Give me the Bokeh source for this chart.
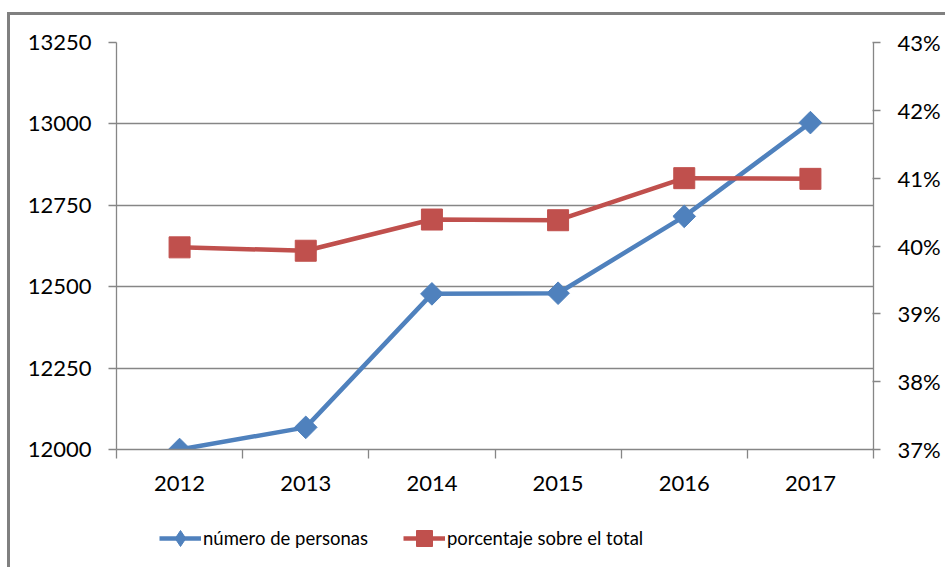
from bokeh.plotting import figure
from bokeh.layouts import column
from bokeh.models import (Range1d, LinearAxis, FixedTicker, NumeralTickFormatter,
                          Legend, LegendItem)
from bokeh.embed import file_html
from bokeh.resources import INLINE

years = ["2012", "2013", "2014", "2015", "2016", "2017"]
personas = [12000, 12068, 12478, 12480, 12716, 13004]
porcentaje = [0.3998, 0.3993, 0.4039, 0.4038, 0.4100, 0.4099]
left_ticks = [12000, 12250, 12500, 12750, 13000, 13250]
right_ticks = [0.37, 0.38, 0.39, 0.40, 0.41, 0.42, 0.43]
series_names = ["número de personas", "porcentaje sobre el total"]

BLUE = "#4F81BD"
RED = "#C0504D"
GREY = "#868686"
FONT = "Lato"

xs = list(range(len(years)))

p = figure(width=935, height=494, output_backend="svg", toolbar_location=None,
           x_range=Range1d(-0.5, len(years) - 0.5), y_range=Range1d(12000, 13250),
           min_border_left=106, min_border_right=72, min_border_top=27,
           min_border_bottom=60)
p.outline_line_color = None
p.background_fill_color = "white"
p.border_fill_color = "white"

p.extra_y_ranges = {"pct": Range1d(0.37, 0.43)}

# grid
p.xgrid.grid_line_color = None
p.ygrid.grid_line_color = GREY
p.ygrid.grid_line_width = 1.3
p.ygrid.ticker = FixedTicker(ticks=left_ticks)

# left axis
ya = p.yaxis[0]
ya.ticker = FixedTicker(ticks=left_ticks)
ya.axis_line_color = GREY
ya.axis_line_width = 1.3
ya.major_tick_line_color = GREY
ya.major_tick_line_width = 1.3
ya.major_tick_in = 0
ya.major_tick_out = 8
ya.minor_tick_line_color = None
ya.major_label_standoff = 17
ya.major_label_text_font = FONT
ya.major_label_text_font_size = "22px"
ya.major_label_text_color = "black"

# bottom axis
xa = p.xaxis[0]
xa.ticker = FixedTicker(ticks=xs, minor_ticks=[x - 0.5 for x in xs] + [xs[-1] + 0.5])
xa.major_label_overrides = {x: y for x, y in zip(xs, years)}
xa.axis_line_color = GREY
xa.axis_line_width = 1.3
xa.major_tick_line_color = None
xa.minor_tick_line_color = GREY
xa.minor_tick_line_width = 1.3
xa.minor_tick_in = 0
xa.minor_tick_out = 9
xa.major_tick_in = 0
xa.major_tick_out = 0
xa.major_label_standoff = 17
xa.major_label_text_font = FONT
xa.major_label_text_font_size = "22px"
xa.major_label_text_color = "black"

# right axis
ra = LinearAxis(y_range_name="pct", ticker=FixedTicker(ticks=right_ticks),
                formatter=NumeralTickFormatter(format="0%"))
ra.axis_line_color = GREY
ra.axis_line_width = 1.3
ra.major_tick_line_color = GREY
ra.major_tick_line_width = 1.3
ra.major_tick_in = 1
ra.major_tick_out = 7
ra.minor_tick_line_color = None
ra.major_label_standoff = 17
ra.major_label_text_font = FONT
ra.major_label_text_font_size = "22px"
ra.major_label_text_color = "black"
p.add_layout(ra, "right")

# series
p.line(xs, personas, line_color=BLUE, line_width=4.5)
p.scatter(xs, personas, marker="square", angle=0.785398, size=16,
          fill_color=BLUE, line_color=BLUE)
p.line(xs, porcentaje, y_range_name="pct", line_color=RED, line_width=4.5)
p.scatter(xs, porcentaje, y_range_name="pct", marker="square", size=21,
          fill_color=RED, line_color=RED)

# legend strip (separate canvas so the legend is not clipped by the plot frame);
# its series renderers lie outside this strip's range, only the legend shows
lg = figure(width=935, height=58, output_backend="svg", toolbar_location=None,
            x_range=Range1d(-0.5, len(years) - 0.5), y_range=Range1d(-2, -1),
            x_axis_type=None, y_axis_type=None,
            min_border_left=0, min_border_right=0, min_border_top=0,
            min_border_bottom=0)
lg.outline_line_color = None
lg.xgrid.visible = False
lg.ygrid.visible = False
lbl = lg.line(xs, personas, line_color=BLUE, line_width=4.5)
lbm = lg.scatter(xs, personas, marker="diamond", size=16,
                 fill_color=BLUE, line_color=BLUE)
lrl = lg.line(xs, porcentaje, line_color=RED, line_width=4.5)
lrm = lg.scatter(xs, porcentaje, marker="square", size=21,
                 fill_color=RED, line_color=RED)

legend = Legend(items=[LegendItem(label=series_names[0], renderers=[lbl, lbm]),
                       LegendItem(label=series_names[1], renderers=[lrl, lrm])],
                orientation="horizontal", location=(43, 9),
                padding=0, margin=0, spacing=35, label_standoff=2,
                glyph_width=42, glyph_height=40,
                label_text_font=FONT, label_text_font_size="18.5px",
                label_text_color="black", border_line_color=None,
                background_fill_alpha=0)
lg.add_layout(legend, "center")

layout = column(p, lg, spacing=0)
# outer chart border (only its top and left edges fall inside the window)
layout.styles = {"margin-left": "7px", "margin-top": "12px",
                 "border-left": "3px solid #808080", "border-top": "3px solid #808080"}

open("out.html", "w").write(file_html(layout, INLINE))
